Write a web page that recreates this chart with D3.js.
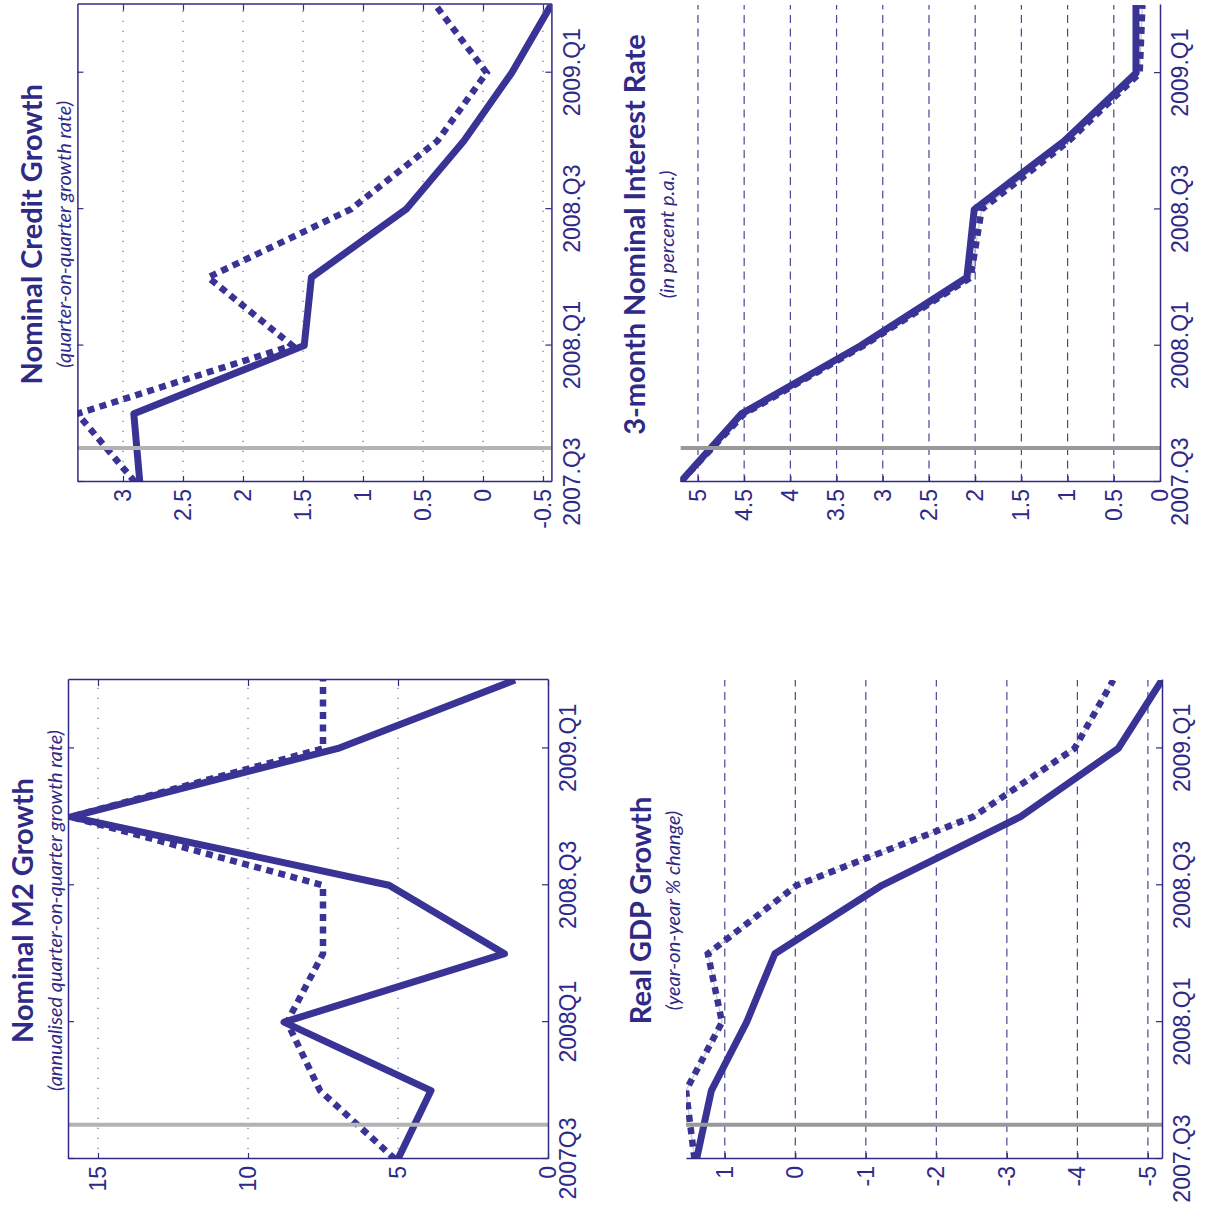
<!DOCTYPE html>
<html>
<head>
<meta charset="utf-8">
<script src="https://cdn.jsdelivr.net/npm/d3@7"></script>
<style>
  html, body { margin: 0; padding: 0; background: #ffffff; }
  svg { display: block; }
  .tick-label { font-family: "Liberation Sans", Arial, sans-serif; font-size: 23px; fill: #2e2a87; }
  .title { font-family: Lato, "Open Sans", sans-serif; font-weight: 700; font-size: 29px; fill: #2f2a85; }
  .subtitle { font-family: Lato, "Open Sans", sans-serif; font-style: italic; font-size: 20px; fill: #2f2a85; }
</style>
</head>
<body>
<script>
// Quarter index 0 = 2007Q3 ... 7 = 2009Q2
const quarterCount = 8;
const tickQuarters = [0, 2, 4, 6];
const shockQuarter = 0.5;

// Nominal M2 growth (annualised q-o-q, %)
const m2Labels = ["2007Q3", "2008Q1", "2008.Q3", "2009.Q1"];
const m2Ticks = [0, 5, 10, 15];
const m2Solid = [5.0, 3.9, 8.8, 1.45, 5.3, 15.9, 7.0, 1.1];
const m2Dotted = [5.1, 7.6, 8.7, 7.5, 7.5, 15.9, 7.5, 7.5];

// Nominal credit growth (q-o-q, %)
const creditLabels = ["2007.Q3", "2008.Q1", "2008.Q3", "2009.Q1"];
const creditTicks = [-0.5, 0, 0.5, 1, 1.5, 2, 2.5, 3];
const creditSolid = [2.86, 2.91, 1.49, 1.43, 0.64, 0.16, -0.24, -0.57];
const creditDotted = [2.90, 3.38, 1.59, 2.29, 1.10, 0.38, -0.03, 0.40];

// Real GDP growth (y-o-y, %)
const gdpLabels = ["2007.Q3", "2008.Q1", "2008.Q3", "2009.Q1"];
const gdpTicks = [-5, -4, -3, -2, -1, 0, 1];
const gdpSolid = [1.40, 1.19, 0.69, 0.29, -1.23, -3.19, -4.58, -5.2];
const gdpDotted = [1.43, 1.55, 1.04, 1.24, -0.02, -2.52, -3.96, -4.51];

// 3-month nominal interest rate (% p.a.)
const rateLabels = ["2007.Q3", "2008.Q1", "2008.Q3", "2009.Q1"];
const rateTicks = [0, 0.5, 1, 1.5, 2, 2.5, 3, 3.5, 4, 4.5, 5];
const rateSolid = [5.19, 4.53, 3.24, 2.09, 2.01, 1.04, 0.26, 0.26];
const rateDotted = [5.19, 4.50, 3.21, 2.05, 1.93, 0.99, 0.22, 0.19];

const navy = "#3a3396";
const axisColor = "#2f2b85";

// Panel layout, in the upright frame (before the page rotation)
const panels = [
  { id: "m2", title: "Nominal M2 Growth", subtitle: "(annualised quarter-on-quarter growth rate)",
    solid: m2Solid, dotted: m2Dotted, ticks: m2Ticks, labels: m2Labels, domain: [0, 16],
    left: 47, right: 526, top: 68, bottom: 548, boxed: true, underlay: false, shockColor: "#b3b3b3" },
  { id: "credit", title: "Nominal Credit Growth", subtitle: "(quarter-on-quarter growth rate)",
    solid: creditSolid, dotted: creditDotted, ticks: creditTicks, labels: creditLabels, domain: [-0.57, 3.38],
    left: 724, right: 1201.5, top: 77.4, bottom: 551.4, boxed: true, underlay: false, shockColor: "#b3b3b3" },
  { id: "gdp", title: "Real GDP Growth", subtitle: "(year-on-year % change)",
    solid: gdpSolid, dotted: gdpDotted, ticks: gdpTicks, labels: gdpLabels, domain: [-5.2, 1.55],
    left: 47, right: 526, top: 686, bottom: 1162, boxed: false, underlay: true, shockColor: "#999999" },
  { id: "rate", title: "3-month Nominal Interest Rate", subtitle: "(in percent p.a.)",
    solid: rateSolid, dotted: rateDotted, ticks: rateTicks, labels: rateLabels, domain: [0, 5.19],
    left: 724, right: 1201, top: 680.4, bottom: 1160, boxed: false, underlay: true, shockColor: "#999999" }
];

const svg = d3.select("body").append("svg")
  .attr("width", 1208).attr("height", 1206);

// The whole figure is drawn upright, then turned a quarter turn counter-clockwise
const root = svg.append("g").attr("transform", "translate(0,1206) rotate(-90)");
const defs = svg.append("defs");

panels.forEach(p => {
  const x = d3.scaleLinear().domain([0, quarterCount - 1]).range([p.left, p.right]);
  const y = d3.scaleLinear().domain(p.domain).range([p.bottom, p.top]);
  const g = root.append("g").attr("class", "panel-" + p.id);

  defs.append("clipPath").attr("id", "clip-" + p.id)
    .append("rect")
    .attr("x", p.left).attr("y", p.top)
    .attr("width", p.right - p.left).attr("height", p.bottom - p.top);

  // value grid lines
  const gridTicks = p.ticks.filter(v => Math.abs(y(v) - p.bottom) > 2 && Math.abs(y(v) - p.top) > 2);
  g.append("g").selectAll("line").data(gridTicks).join("line")
    .attr("x1", p.left).attr("x2", p.right)
    .attr("y1", d => y(d)).attr("y2", d => y(d))
    .attr("stroke", p.boxed ? "#7d79b3" : "#4a4694")
    .attr("stroke-width", p.boxed ? 1.3 : 1.2)
    .attr("stroke-dasharray", p.boxed ? "1.3,8.7" : "8,5.5");

  // series
  const line = d3.line().x((d, i) => x(i)).y(d => y(d));
  const plot = g.append("g").attr("clip-path", `url(#clip-${p.id})`);
  if (p.underlay) {
    plot.append("path").datum(p.dotted).attr("d", line)
      .attr("fill", "none").attr("stroke", "#c9c9c9").attr("stroke-width", 1.2);
  }
  plot.append("path").datum(p.dotted).attr("d", line)
    .attr("fill", "none").attr("stroke", navy).attr("stroke-width", 6.5)
    .attr("stroke-dasharray", "7,5.5").attr("stroke-linejoin", "miter");
  plot.append("path").datum(p.solid).attr("d", line)
    .attr("fill", "none").attr("stroke", navy).attr("stroke-width", 7)
    .attr("stroke-linejoin", "round");

  // vertical marker at the start of the episode
  plot.append("line")
    .attr("x1", x(shockQuarter)).attr("x2", x(shockQuarter))
    .attr("y1", p.top).attr("y2", p.bottom)
    .attr("stroke", p.shockColor).attr("stroke-width", 4);

  // axes
  const xAxis = d3.axisBottom(x).tickValues(tickQuarters)
    .tickFormat((d, i) => p.labels[i]).tickSizeInner(-6).tickSizeOuter(0).tickPadding(12);
  const yAxis = d3.axisLeft(y).tickValues(p.ticks)
    .tickFormat(d3.format("~g")).tickSizeInner(-6).tickSizeOuter(0).tickPadding(7);

  const gx = g.append("g").attr("transform", `translate(0,${p.bottom})`).call(xAxis);
  const gy = g.append("g").attr("transform", `translate(${p.left},0)`).call(yAxis);
  [gx, gy].forEach(a => {
    a.select(".domain").attr("stroke", axisColor).attr("stroke-width", 1.5);
    a.selectAll(".tick line").attr("stroke", axisColor).attr("stroke-width", 1.2);
    a.selectAll(".tick text").attr("class", "tick-label").attr("font-family", null).attr("font-size", null).attr("fill", null);
  });
  gy.selectAll(".tick text").text(d => d3.format("~g")(d).replace("−", "-"));

  if (p.boxed) {
    const gt = g.append("g").attr("transform", `translate(0,${p.top})`)
      .call(d3.axisTop(x).tickValues(tickQuarters).tickFormat("").tickSizeInner(-6).tickSizeOuter(0));
    const gr = g.append("g").attr("transform", `translate(${p.right},0)`)
      .call(d3.axisRight(y).tickValues(p.ticks).tickFormat("").tickSizeInner(-6).tickSizeOuter(0));
    [gt, gr].forEach(a => {
      a.select(".domain").attr("stroke", axisColor).attr("stroke-width", 1.5);
      a.selectAll(".tick line").attr("stroke", axisColor).attr("stroke-width", 1.2);
    });
  }

  // titles
  const cx = (p.left + p.right) / 2 + 9;
  g.append("text").attr("class", "title")
    .attr("x", cx).attr("y", p.top - 35).attr("text-anchor", "middle").text(p.title);
  g.append("text").attr("class", "subtitle")
    .attr("x", cx).attr("y", p.top - 6).attr("text-anchor", "middle").text(p.subtitle);
});
</script>
</body>
</html>
